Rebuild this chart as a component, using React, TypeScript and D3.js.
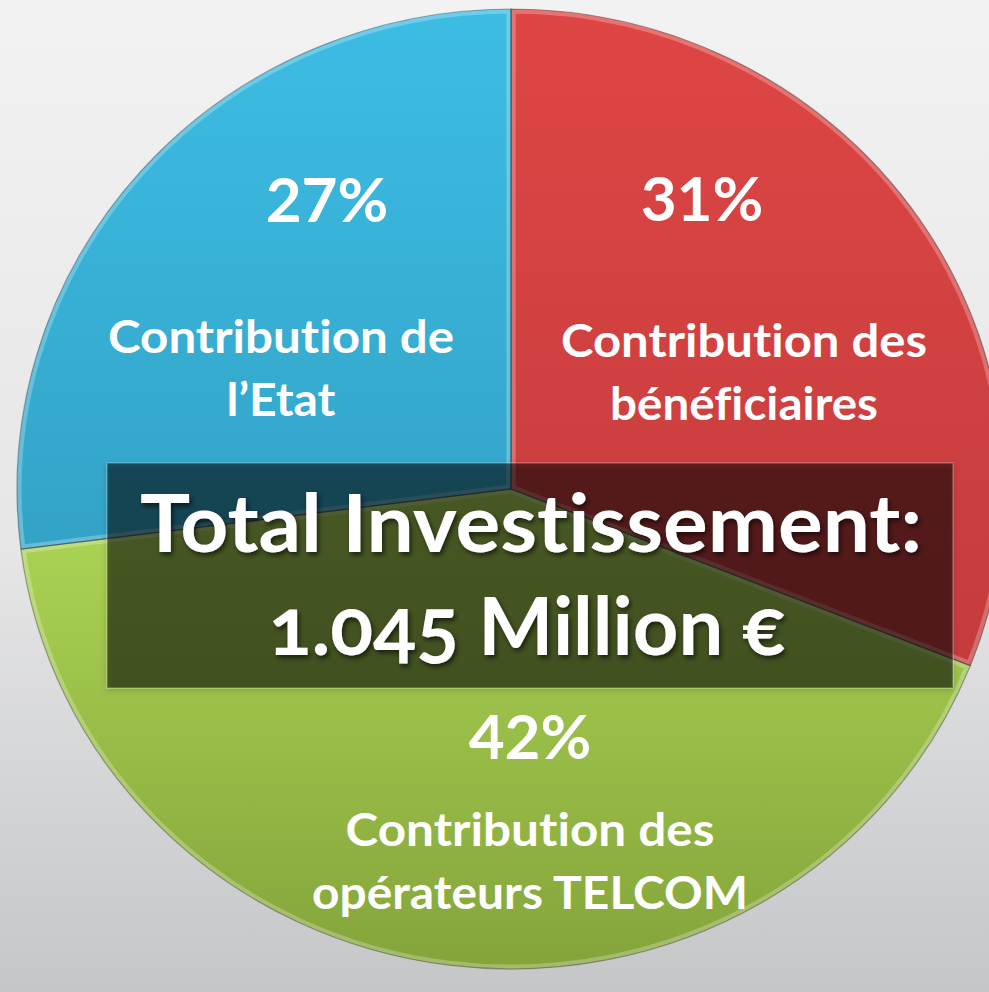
import { useEffect, useRef } from 'react';
import * as d3 from 'd3';

// slices in clockwise order starting at 12 o'clock
const sliceNames = ['beneficiaires', 'operateurs', 'etat'];
const sliceValues = [31, 42, 27];
const percentLabels = ['31%', '42%', '27%'];
const sliceLabels = [
    ['Contribution des', 'bénéficiaires'],
    ['Contribution des', 'opérateurs TELCOM'],
    ['Contribution de', 'l’Etat']
];
const titleLines = ['Total Investissement:', '1.045 Million €'];

// colours: [top, bottom] of each slice gradient, with the y span it covers
const sliceColors = [
    ['#de4644', '#b9373a'],
    ['#abd354', '#84a43a'],
    ['#3dbde4', '#2b8fb1']
];
const gradientSpan = [
    [-480, 480],
    [40, 480],
    [-480, 480]
];

// layout of the labels (pct position, first line baseline, widths)
const labelLayout = [
    { x: 702, pctY: 221, lineX: 744, lineY: 357, widths: [366, 268] },
    { x: 530, pctY: 759, lineX: 530, lineY: 846, widths: [369, 436] },
    { x: 327, pctY: 222, lineX: 281, lineY: 353, widths: [346, 109] }
];

const W = 989;
const H = 992;
const FONT = 'Lato, "Open Sans", "DejaVu Sans", sans-serif';

export default function App() {
    const svgRef = useRef<SVGSVGElement>(null);

    useEffect(() => {
        if (!svgRef.current) return;
        const svg = d3.select(svgRef.current);
        svg.selectAll('*').remove();

        const cx = 511;
        const cy = 489;
        const r = 480;
        const sx = 494 / 480;

        const defs = svg.append('defs');

        const bg = defs.append('linearGradient')
            .attr('id', 'bg')
            .attr('x1', 0).attr('y1', 0).attr('x2', 0).attr('y2', 1);
        bg.append('stop').attr('offset', '0%').attr('stop-color', '#f2f2f2');
        bg.append('stop').attr('offset', '55%').attr('stop-color', '#e6e6e7');
        bg.append('stop').attr('offset', '100%').attr('stop-color', '#c4c6c8');

        sliceColors.forEach((c, i) => {
            const g = defs.append('linearGradient')
                .attr('id', `grad-${i}`)
                .attr('gradientUnits', 'userSpaceOnUse')
                .attr('x1', 0).attr('y1', gradientSpan[i][0])
                .attr('x2', 0).attr('y2', gradientSpan[i][1]);
            g.append('stop').attr('offset', '0%').attr('stop-color', c[0]);
            g.append('stop').attr('offset', '100%').attr('stop-color', c[1]);
        });

        const shadow = defs.append('filter')
            .attr('id', 'txtShadow')
            .attr('x', '-10%').attr('y', '-30%').attr('width', '120%').attr('height', '160%');
        shadow.append('feDropShadow')
            .attr('dx', 2).attr('dy', 3)
            .attr('stdDeviation', 2.5)
            .attr('flood-color', '#000')
            .attr('flood-opacity', 0.6);

        const boxShadow = defs.append('filter')
            .attr('id', 'boxShadow')
            .attr('x', '-5%').attr('y', '-10%').attr('width', '110%').attr('height', '125%');
        boxShadow.append('feDropShadow')
            .attr('dx', 0).attr('dy', 2)
            .attr('stdDeviation', 3)
            .attr('flood-color', '#000')
            .attr('flood-opacity', 0.35);

        svg.append('rect')
            .attr('width', W)
            .attr('height', H)
            .attr('fill', 'url(#bg)');

        const pie = d3.pie<number>().sort(null).value(d => d);
        const arcs = pie(sliceValues);
        const arc = d3.arc<d3.PieArcDatum<number>>().innerRadius(0).outerRadius(r);

        const g = svg.append('g')
            .attr('transform', `translate(${cx},${cy}) scale(${sx},1)`);

        arcs.forEach((a, i) => {
            defs.append('clipPath')
                .attr('id', `clip-${i}`)
                .append('path')
                .attr('d', arc(a) || '');
        });

        g.selectAll('path.slice')
            .data(arcs)
            .enter()
            .append('path')
            .attr('class', d => `slice ${sliceNames[d.index]}`)
            .attr('d', arc)
            .attr('fill', d => `url(#grad-${d.index})`);

        // bevel: light inner edge
        g.selectAll('path.bevel')
            .data(arcs)
            .enter()
            .append('path')
            .attr('class', 'bevel')
            .attr('d', arc)
            .attr('clip-path', d => `url(#clip-${d.index})`)
            .attr('fill', 'none')
            .attr('stroke', '#fff')
            .attr('stroke-opacity', 0.25)
            .attr('stroke-width', 9);

        g.selectAll('path.edge')
            .data(arcs)
            .enter()
            .append('path')
            .attr('class', 'edge')
            .attr('d', arc)
            .attr('fill', 'none')
            .attr('stroke', '#000')
            .attr('stroke-opacity', 0.3)
            .attr('stroke-width', 1.2);

        // slice labels
        arcs.forEach((a, i) => {
            const lay = labelLayout[i];
            svg.append('text')
                .attr('x', lay.x)
                .attr('y', lay.pctY)
                .attr('text-anchor', 'middle')
                .attr('font-family', FONT)
                .attr('font-weight', 'bold')
                .attr('font-size', 62)
                .attr('fill', '#fff')
                .text(percentLabels[i]);

            sliceLabels[i].forEach((line, j) => {
                svg.append('text')
                    .attr('x', lay.lineX)
                    .attr('y', lay.lineY + j * 63)
                    .attr('text-anchor', 'middle')
                    .attr('font-family', FONT)
                    .attr('font-weight', 'bold')
                    .attr('font-size', 45)
                    .attr('fill', '#fff')
                    .attr('textLength', lay.widths[j])
                    .attr('lengthAdjust', 'spacingAndGlyphs')
                    .style('font-variant-ligatures', 'none')
                    .text(line);
            });
        });

        // total box
        svg.append('rect')
            .attr('x', 107)
            .attr('y', 463)
            .attr('width', 846)
            .attr('height', 225)
            .attr('fill', '#000')
            .attr('fill-opacity', 0.5)
            .attr('stroke', '#fff')
            .attr('stroke-opacity', 0.18)
            .attr('stroke-width', 2)
            .attr('filter', 'url(#boxShadow)');

        const titleLayout = [
            { x: 531, y: 552, w: 782 },
            { x: 527, y: 655, w: 517 }
        ];
        titleLines.forEach((line, j) => {
            svg.append('text')
                .attr('x', titleLayout[j].x)
                .attr('y', titleLayout[j].y)
                .attr('text-anchor', 'middle')
                .attr('font-family', FONT)
                .attr('font-weight', 'bold')
                .attr('font-size', 80)
                .attr('fill', '#fff')
                .attr('textLength', titleLayout[j].w)
                .attr('lengthAdjust', 'spacingAndGlyphs')
                .style('font-variant-ligatures', 'none')
                .style('font-variant-numeric', 'oldstyle-nums')
                .attr('filter', 'url(#txtShadow)')
                .text(line);
        });
    }, []);

    return (
        <svg
            ref={svgRef}
            width={W}
            height={H}
            style={{ position: 'absolute', left: 0, top: 0, display: 'block' }}
        />
    );
}
